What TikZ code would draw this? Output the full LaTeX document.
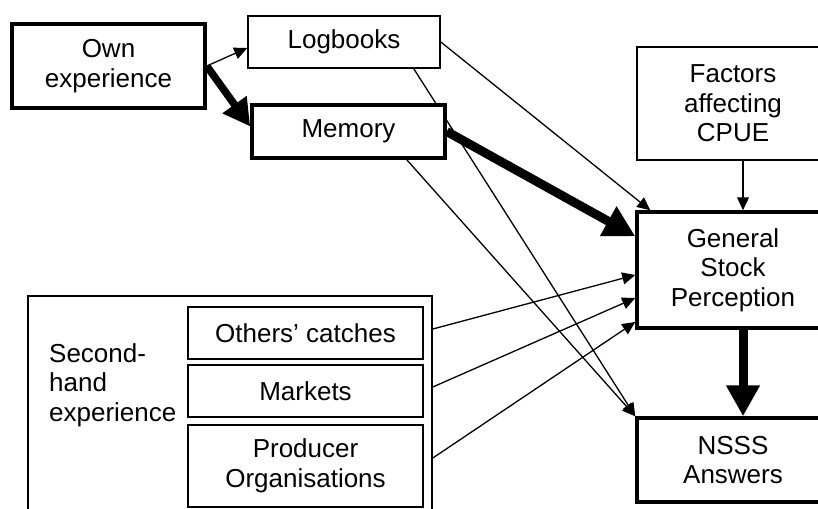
\documentclass[tikz,border=0pt]{standalone}
\usepackage{fontspec}
\setmainfont{Liberation Sans}
\usetikzlibrary{arrows.meta,positioning,calc,backgrounds}
\tikzset{
  thinbox/.style={draw, line width=1.6pt, fill=white, align=center, inner sep=0pt},
  thickbox/.style={draw, line width=3.5pt, fill=white, align=center, inner sep=0pt},
  thinarrow/.style={line width=1.3pt, -{Triangle[length=13pt,width=12pt]}},
  boldarrow/.style={line width=7.5pt, -{Triangle[length=27pt,width=28pt]}},
  hugearrow/.style={line width=9pt, -{Triangle[length=31pt,width=32pt]}}
}

\begin{document}
\begin{tikzpicture}[x=1pt, y=-1pt, every node/.style={font=\fontsize{26}{29.5}\selectfont}]
  \useasboundingbox (0,0) rectangle (818,508);
  \clip (0,0) rectangle (818,508);

  \node[thickbox, minimum width=193, minimum height=84] (own) at (108.5,66) {Own\\experience};
  \node[thinbox, minimum width=192, minimum height=52] (log) at (344,42) {Logbooks};
  \node[thickbox, minimum width=193, minimum height=53] (mem) at (348.5,131.5) {Memory};
  \node[thinbox, minimum width=192, minimum height=113] (fac) at (733,103.5) {Factors\\affecting\\CPUE};
  \node[thickbox, minimum width=192, minimum height=116] (gsp) at (733,270) {General\\Stock\\Perception};
  \node[thickbox, minimum width=192, minimum height=84] (nsss) at (733,460) {NSSS\\Answers};

  \node[thinbox, minimum width=404, minimum height=240] (second) at (230,416) {};
  \node[anchor=west, align=left, inner sep=0pt] (shlabel) at (49,385) {Second-\\hand\\experience};
  \node[thinbox, minimum width=235, minimum height=52] (oth) at (305.5,333) {Others’ catches};
  \node[thinbox, minimum width=235, minimum height=52] (mkt) at (305.5,391) {Markets};
  \node[thinbox, minimum width=235, minimum height=82] (prod) at (305.5,466) {Producer\\Organisations};

  \begin{scope}[on background layer]
    \draw[thinarrow] (own.east) -- ($(log.west)+(0,6)$);
    \draw[boldarrow] (own.east) -- ($(mem.west)+(0,-5)$);
    \draw[thinarrow] (log.east) -- ($(gsp.north west)+(15,0)$);
    \draw[thinarrow] ($(log.south east)+(-27,0)$) -- (nsss.north west);
    \draw[thinarrow] ($(mem.south east)+(-40,0)$) -- (nsss.north west);
    \draw[hugearrow] (mem.east) -- ($(gsp.north west)+(0,26)$);
    \draw[thinarrow] ($(fac.south)+(10,0)$) -- ($(gsp.north)+(10,0)$);
    \draw[thinarrow] ($(oth.east -| second.east)+(0,-4)$) -- ($(gsp.west)+(0,5)$);
    \draw[thinarrow] ($(mkt.east -| second.east)+(0,-4)$) -- ($(gsp.west)+(0,28)$);
    \draw[thinarrow] ($(prod.east -| second.east)+(0,-8)$) -- ($(gsp.west)+(0,52)$);
    \draw[hugearrow] ($(gsp.south)+(10,0)$) -- ($(nsss.north)+(10,0)$);
  \end{scope}
\end{tikzpicture}
\end{document}
